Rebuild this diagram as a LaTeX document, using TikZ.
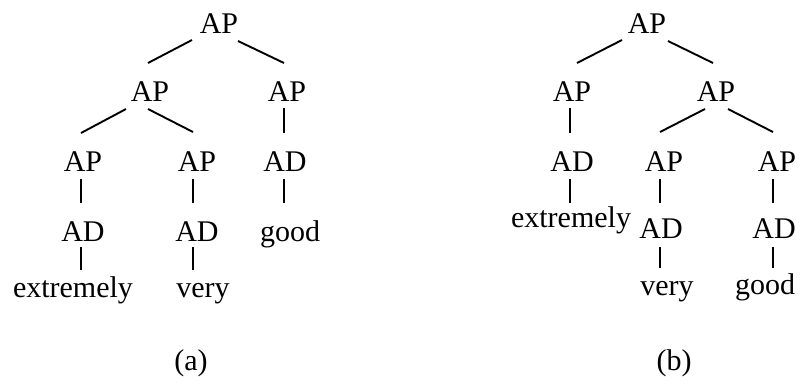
\documentclass[tikz,border=0pt]{standalone}
\usepackage{fontspec}
\setmainfont{Liberation Serif}
\begin{document}
\begin{tikzpicture}[x=1pt,y=-1pt,
  lbl/.style={anchor=base,inner sep=0pt,font=\fontsize{30}{36}\selectfont},
  edge/.style={line width=1.9pt}]
\useasboundingbox (0,0) rectangle (806,384);
% ---- tree (a)
\node[lbl] (ar)  at (219,33) {AP};
\node[lbl] (al)  at (150,101) {AP};
\node[lbl] (arr) at (287,101) {AP};
\node[lbl] (a3a) at (83,171) {AP};
\node[lbl] (a3b) at (197,171) {AP};
\node[lbl] (a3c) at (285,171) {AD};
\node[lbl] (a4a) at (83,241) {AD};
\node[lbl] (a4b) at (197,241) {AD};
\node[lbl] (agood) at (290,241) {good};
\node[lbl] (aext) at (73,297) {extremely};
\node[lbl] (avery) at (203,297) {very};
\node[lbl] (capa) at (191,370) {(a)};
\draw[edge] ([shift={(-27,7)}]ar.base) -- ([shift={(-2,-38)}]al.base);
\draw[edge] ([shift={(19,8)}]ar.base) -- ([shift={(-3,-38)}]arr.base);
\draw[edge] ([shift={(-24,8)}]al.base) -- ([shift={(-2,-38)}]a3a.base);
\draw[edge] ([shift={(-2,8)}]al.base) -- ([shift={(-4,-39)}]a3b.base);
\draw[edge] ([shift={(-3,7)}]arr.base) -- ([shift={(-1,-38)}]a3c.base);
\draw[edge] ([shift={(-2,8)}]a3a.base) -- ([shift={(-2,-38)}]a4a.base);
\draw[edge] ([shift={(-4,8)}]a3b.base) -- ([shift={(-4,-38)}]a4b.base);
\draw[edge] ([shift={(-1,8)}]a3c.base) -- ([shift={(-6,-38)}]agood.base);
\draw[edge] ([shift={(-2,6)}]a4a.base) -- ([shift={(8,-27)}]aext.base);
\draw[edge] ([shift={(-4,6)}]a4b.base) -- ([shift={(-10,-27)}]avery.base);
% ---- tree (b)
\node[lbl] (br)  at (647,33) {AP};
\node[lbl] (bl)  at (572,101) {AP};
\node[lbl] (brr) at (716,101) {AP};
\node[lbl] (b3a) at (572,171) {AD};
\node[lbl] (b3b) at (664,171) {AP};
\node[lbl] (b3c) at (777,171) {AP};
\node[lbl] (bext) at (571,227) {extremely};
\node[lbl] (b4b) at (661,238) {AD};
\node[lbl] (b4c) at (774,238) {AD};
\node[lbl] (bvery) at (667,295) {very};
\node[lbl] (bgood) at (765,294) {good};
\node[lbl] (capb) at (674,370) {(b)};
\draw[edge] ([shift={(-25,7)}]br.base) -- ([shift={(5,-38)}]bl.base);
\draw[edge] ([shift={(21,8)}]br.base) -- ([shift={(-3,-38)}]brr.base);
\draw[edge] ([shift={(-2,7)}]bl.base) -- ([shift={(-2,-38)}]b3a.base);
\draw[edge] ([shift={(-11,8)}]brr.base) -- ([shift={(-4,-39)}]b3b.base);
\draw[edge] ([shift={(12,8)}]brr.base) -- ([shift={(-4,-39)}]b3c.base);
\draw[edge] ([shift={(-2,8)}]b3a.base) -- ([shift={(-1,-24)}]bext.base);
\draw[edge] ([shift={(-4,8)}]b3b.base) -- ([shift={(-1,-35)}]b4b.base);
\draw[edge] ([shift={(-4,8)}]b3c.base) -- ([shift={(-1,-35)}]b4c.base);
\draw[edge] ([shift={(-1,9)}]b4b.base) -- ([shift={(-7,-27)}]bvery.base);
\draw[edge] ([shift={(-1,9)}]b4c.base) -- ([shift={(8,-26)}]bgood.base);
\end{tikzpicture}
\end{document}
